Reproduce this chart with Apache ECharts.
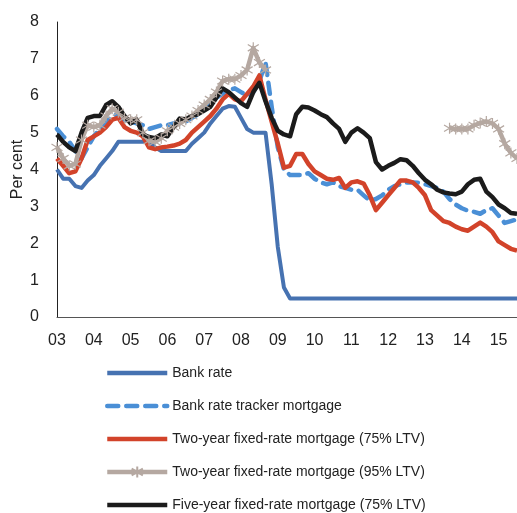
<!DOCTYPE html>
<html>
<head>
<meta charset="utf-8">
<script src="https://cdn.jsdelivr.net/npm/echarts@6/dist/echarts.min.js"></script>
<style>
  html, body { margin: 0; padding: 0; background: #fff; }
  #chart { width: 517px; height: 513px; }
</style>
</head>
<body>
<div id="chart"></div>
<script>
// two-monthly observations, Jan 2003 .. Jul 2015
const periods = []
for (let y = 2003; y <= 2015; y++) {
  for (const m of ['01', '03', '05', '07', '09', '11']) {
    if (y === 2015 && m > '07') break
    periods.push(y + '-' + m)
  }
}
const yearLabels = ['03', '04', '05', '06', '07', '08', '09', '10', '11', '12', '13', '14', '15']

const bankRate = [
  4.0, 3.75, 3.75, 3.55, 3.5, 3.7, 3.85, 4.1, 4.3, 4.5, 4.75, 4.75,
  4.75, 4.75, 4.75, 4.75, 4.6, 4.5, 4.5, 4.5, 4.5, 4.5, 4.7, 4.85,
  5.0, 5.25, 5.45, 5.65, 5.72, 5.7, 5.4, 5.1, 5.0, 5.0, 5.0, 3.6,
  1.9, 0.8, 0.5, 0.5, 0.5, 0.5, 0.5, 0.5, 0.5, 0.5, 0.5, 0.5,
  0.5, 0.5, 0.5, 0.5, 0.5, 0.5, 0.5, 0.5, 0.5, 0.5, 0.5, 0.5,
  0.5, 0.5, 0.5, 0.5, 0.5, 0.5, 0.5, 0.5, 0.5, 0.5, 0.5, 0.5,
  0.5, 0.5, 0.5, 0.5
]
const tracker = [
  5.1, 4.9, 4.75, 4.5, 4.3, 4.6, 4.9, 5.1, 5.3, 5.45, 5.5, 5.35,
  5.3, 5.25, 5.2, 5.1, 5.15, 5.2, 5.2, 5.25, 5.25, 5.3, 5.4, 5.5,
  5.65, 5.8, 5.95, 6.05, 6.15, 6.2, 6.1, 6.0, 6.1, 6.4, 6.9, 5.7,
  4.6, 4.0, 3.85, 3.85, 3.85, 3.9, 3.75, 3.65, 3.6, 3.65, 3.55, 3.5,
  3.45, 3.45, 3.3, 3.15, 3.2, 3.3, 3.45, 3.55, 3.6, 3.65, 3.65, 3.64,
  3.6, 3.55, 3.5, 3.4, 3.2, 3.05, 2.95, 2.88, 2.85, 2.8, 2.9, 2.95,
  2.75, 2.55, 2.6, 2.65
]
const twoYear75 = [
  4.3, 4.1, 3.9, 3.95, 4.3, 4.8, 4.9, 5.0, 5.15, 5.35, 5.4, 5.15,
  5.05, 5.0, 4.9, 4.6, 4.55, 4.6, 4.62, 4.65, 4.7, 4.8, 5.0, 5.15,
  5.3, 5.45, 5.65, 5.9, 6.05, 5.9, 5.85, 6.05, 6.25, 6.55, 5.9, 5.3,
  4.7, 4.05, 4.1, 4.42, 4.42, 4.15, 3.95, 3.85, 3.75, 3.72, 3.77, 3.5,
  3.65, 3.68, 3.62, 3.3, 2.9, 3.1, 3.3, 3.5, 3.7, 3.7, 3.65, 3.5,
  3.3, 2.9, 2.75, 2.6, 2.55, 2.45, 2.38, 2.34, 2.45, 2.56, 2.45, 2.3,
  2.05, 1.95, 1.85, 1.8
]
const twoYear95 = [
  4.6, 4.3, 4.1, 4.15, 4.8, 5.2, 5.15, 5.2, 5.45, 5.65, 5.55, 5.4,
  5.35, 5.35, 5.0, 4.78, 4.75, 4.85, 5.05, 5.15, 5.25, 5.35, 5.45, 5.6,
  5.75, 5.9, 6.1, 6.4, 6.45, 6.45, 6.55, 6.7, 7.3, 6.9, 6.7, null,
  null, null, null, null, null, null, null, null, null, null, null, null,
  null, null, null, null, null, null, null, null, null, null, null, null,
  null, null, null, null, 5.12, 5.1, 5.1, 5.1, 5.2, 5.26, 5.3, 5.25,
  5.1, 4.7, 4.45, 4.3
]
const fiveYear75 = [
  4.95, 4.75, 4.6, 4.5, 5.0, 5.4, 5.45, 5.45, 5.75, 5.85, 5.7, 5.45,
  5.25, 5.35, 4.95, 4.88, 4.85, 4.95, 4.9, 5.15, 5.38, 5.36, 5.45, 5.5,
  5.6, 5.7, 5.95, 6.2, 6.1, 5.95, 5.8, 5.7, 6.1, 6.35, 5.85, 5.4,
  5.05, 4.95, 4.9, 5.5, 5.7, 5.68, 5.6, 5.5, 5.42, 5.25, 5.1, 4.75,
  5.0, 5.12, 5.0, 4.85, 4.2, 4.0, 4.1, 4.18, 4.28, 4.25, 4.1, 3.9,
  3.72, 3.6, 3.45, 3.38, 3.35, 3.33, 3.4, 3.6, 3.72, 3.75, 3.4, 3.25,
  3.05, 2.95, 2.82, 2.8
]

const names = [
  'Bank rate',
  'Bank rate tracker mortgage',
  'Two-year fixed-rate mortgage (75% LTV)',
  'Two-year fixed-rate mortgage (95% LTV)',
  'Five-year fixed-rate mortgage (75% LTV)'
]

const font = 'Liberation Sans, Arial, sans-serif'
const crossMark = 'path://M0,2L10,8M0,8L10,2M5,0L5,10'

const chart = echarts.init(document.getElementById('chart'))

chart.setOption({
  animation: false,
  grid: { left: 57, right: 0, top: 22, bottom: 196, outerBoundsMode: 'none', containLabel: false },
  legend: {
    orient: 'vertical',
    left: 105,
    top: 366,
    padding: 0,
    height: 160,
    itemWidth: 60,
    itemHeight: 14,
    itemGap: 19,
    lineStyle: { width: 4.5 },
    textStyle: { fontFamily: font, fontSize: 14, color: '#222' },
    // hide the default dot on plain line entries
    data: names.map((n, i) => i === 3 ? { name: n } : { name: n, itemStyle: { opacity: 0 } })
  },
  xAxis: {
    type: 'category',
    data: periods,
    boundaryGap: false,
    axisLine: { lineStyle: { color: '#555', width: 1 } },
    axisTick: { show: false },
    axisLabel: {
      interval: (i) => i % 6 === 0,
      formatter: (v, i) => yearLabels[Math.round(i / 6)],
      margin: 16,
      fontFamily: font,
      fontSize: 16,
      color: '#222'
    },
    splitLine: { show: false }
  },
  yAxis: {
    type: 'value',
    min: 0,
    max: 8,
    interval: 1,
    name: 'Per cent',
    nameLocation: 'middle',
    nameGap: 31,
    nameMoveOverlap: false,
    nameTextStyle: { fontFamily: font, fontSize: 16, color: '#222' },
    axisLine: { show: true, lineStyle: { color: '#222', width: 1 } },
    axisTick: { show: false },
    axisLabel: { margin: 18, fontFamily: font, fontSize: 16, color: '#222' },
    splitLine: { show: false }
  },
  series: [
    {
      name: names[0],
      type: 'line',
      data: bankRate,
      symbol: 'none',
      lineStyle: { color: '#4672b1', width: 4, join: 'round' },
      itemStyle: { color: '#4672b1' }
    },
    {
      name: names[1],
      type: 'line',
      data: tracker,
      symbol: 'none',
      lineStyle: { color: '#4a8fd6', width: 4.5, type: [11, 8], cap: 'round', join: 'round' },
      itemStyle: { color: '#4a8fd6' }
    },
    {
      name: names[2],
      type: 'line',
      data: twoYear75,
      symbol: 'none',
      lineStyle: { color: '#d2432a', width: 4.5, join: 'round' },
      itemStyle: { color: '#d2432a' }
    },
    {
      name: names[3],
      type: 'line',
      data: twoYear95,
      symbol: crossMark,
      symbolSize: 11,
      showSymbol: true,
      showAllSymbol: true,
      connectNulls: false,
      lineStyle: { color: '#b5a8a1', width: 4.5, join: 'round' },
      itemStyle: { color: '#b5a8a1', borderColor: '#b5a8a1', borderWidth: 1.2 }
    },
    {
      name: names[4],
      type: 'line',
      data: fiveYear75,
      symbol: 'none',
      lineStyle: { color: '#1b1b1b', width: 4.5, join: 'round' },
      itemStyle: { color: '#1b1b1b' }
    }
  ]
})
</script>
</body>
</html>
